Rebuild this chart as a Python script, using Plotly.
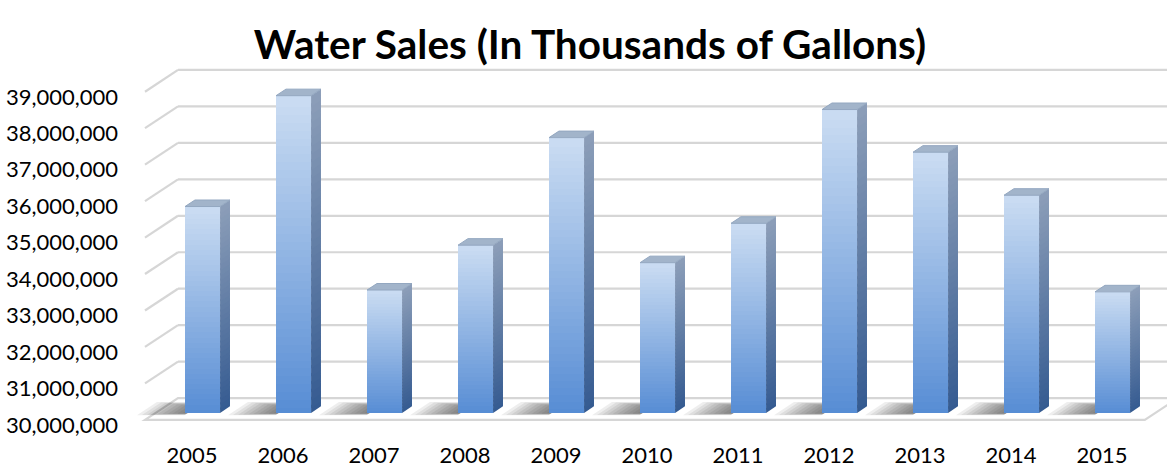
import plotly.graph_objects as go

# ---- data -------------------------------------------------------------
years = [2005, 2006, 2007, 2008, 2009, 2010, 2011, 2012, 2013, 2014, 2015]
sales = [35_660_000, 38_700_000, 33_370_000, 34_600_000, 37_550_000,
         34_120_000, 35_200_000, 38_320_000, 37_150_000, 35_970_000,
         33_320_000]
value_ticks = [30_000_000, 31_000_000, 32_000_000, 33_000_000, 34_000_000,
               35_000_000, 36_000_000, 37_000_000, 38_000_000, 39_000_000]

# ---- oblique "3-D" geometry (in axis units) ----------------------------
BASE = value_ticks[0]
DEPTH_X = -0.3626        # x shift from back wall to front edge of floor
DEPTH_Y = -597_000       # y shift from back wall to front edge of floor
FRONT_D = 0.68           # depth of the column front faces (0 = back, 1 = front)
BAR_DEPTH = 0.30         # column thickness as a fraction of floor depth
BAR_W = 0.385            # column width in category units
WALL_LEFT, WALL_RIGHT = -0.5165, 10.47
N_SLICES = 40
LABEL_NUDGE = 140_000    # pushes value labels down onto the line ends

X_RANGE = [-1.0989, 10.3516]
Y_RANGE = [28_960_600, 39_272_700]

GRID = "#d6d6d6"


def lerp(c0, c1, t):
    return "rgb({},{},{})".format(*[round(a + (b - a) * t) for a, b in zip(c0, c1)])


def path(xs, ys):
    pts = " L ".join(f"{x},{y}" for x, y in zip(xs, ys))
    return f"M {pts} Z"


FRONT_BOTTOM, FRONT_TOP = (86, 140, 212), (202, 220, 242)
SIDE_BOTTOM, SIDE_TOP = (52, 90, 145), (140, 158, 184)

shapes = []

# ---- floor (drawn beneath the traces) ---------------------------------
fx = [WALL_LEFT + DEPTH_X, WALL_RIGHT + DEPTH_X, WALL_RIGHT, WALL_LEFT]
fy = [BASE + DEPTH_Y, BASE + DEPTH_Y, BASE, BASE]
shapes.append(dict(type="path", path=path(fx, fy), xref="x", yref="y", layer="below",
                   fillcolor="white", line=dict(color=GRID, width=2.2)))

# ---- gridlines: back wall + left-side diagonals -----------------------
for v in value_ticks[1:]:
    shapes.append(dict(type="line", xref="x", yref="y", layer="below",
                       x0=WALL_LEFT + DEPTH_X, y0=v + DEPTH_Y, x1=WALL_LEFT, y1=v,
                       line=dict(color=GRID, width=2.2)))
    shapes.append(dict(type="line", xref="x", yref="y", layer="below",
                       x0=WALL_LEFT, y0=v, x1=WALL_RIGHT, y1=v,
                       line=dict(color=GRID, width=2.2)))

# ---- soft floor shadows to the left of each column --------------------
for k in range(1, 11):
    L = 0.052 * k
    d_f = FRONT_D + 0.005 + 0.01 * k
    d_b = FRONT_D - BAR_DEPTH - 0.02 * k
    for i in range(len(years)):
        xl_f = i - BAR_W / 2 + d_f * DEPTH_X + 0.03
        xl_b = i - BAR_W / 2 + d_b * DEPTH_X + 0.03
        sx = [xl_f - L, xl_f, xl_b, xl_b - L]
        sy = [BASE + d_f * DEPTH_Y, BASE + d_f * DEPTH_Y,
              BASE + d_b * DEPTH_Y, BASE + d_b * DEPTH_Y]
        shapes.append(dict(type="path", path=path(sx, sy), xref="x", yref="y",
                           layer="below", fillcolor="rgba(30,30,30,0.075)",
                           line=dict(width=0)))

fig = go.Figure()

# ---- columns ----------------------------------------------------------
x_front = [i + FRONT_D * DEPTH_X for i in range(len(years))]
bottom = BASE + FRONT_D * DEPTH_Y
tops = [v + FRONT_D * DEPTH_Y for v in sales]
shift_x = -BAR_DEPTH * DEPTH_X
shift_y = -BAR_DEPTH * DEPTH_Y

for k in range(N_SLICES):
    t = (k + 0.5) / N_SLICES
    lo = [bottom + (tp - bottom) * k / N_SLICES for tp in tops]
    hi = [bottom + (tp - bottom) * (k + 1) / N_SLICES for tp in tops]
    pad = [0 if k == 0 else (h - l) * 0.4 for l, h in zip(lo, hi)]
    base = [l - p for l, p in zip(lo, pad)]

    # front face slice
    fig.add_trace(go.Bar(x=x_front, y=[h - b for h, b in zip(hi, base)], base=base,
                         width=BAR_W, marker=dict(color=lerp(FRONT_BOTTOM, FRONT_TOP, t),
                                                  line=dict(width=0)),
                         hoverinfo="skip", showlegend=False))

    # side face slice
    px, py = [], []
    for xf, b, h in zip(x_front, base, hi):
        xr = xf + BAR_W / 2
        px += [xr, xr + shift_x, xr + shift_x, xr, xr, None]
        py += [b, b + shift_y, h + shift_y, h, b, None]
    fig.add_trace(go.Scatter(x=px, y=py, mode="lines", fill="toself",
                             fillcolor=lerp(SIDE_BOTTOM, SIDE_TOP, t),
                             line=dict(width=0), hoverinfo="skip", showlegend=False))

# top faces
tx, ty = [], []
for xf, tp in zip(x_front, tops):
    xl, xr = xf - BAR_W / 2, xf + BAR_W / 2
    tx += [xl, xr, xr + shift_x, xl + shift_x, xl, None]
    ty += [tp, tp, tp + shift_y, tp + shift_y, tp, None]
fig.add_trace(go.Scatter(x=tx, y=ty, mode="lines", fill="toself", fillcolor="#a2b4ca",
                         line=dict(color="#93a7c0", width=1), hoverinfo="skip",
                         showlegend=False))

# invisible trace that carries the value-axis labels (front edge of the left wall)
fig.add_trace(go.Scatter(x=[None], y=[None], yaxis="y2", showlegend=False,
                         hoverinfo="skip"))

FONT = "Lato"
fig.update_layout(
    width=1167, height=468,
    margin=dict(l=125, r=0, t=60, b=28),
    paper_bgcolor="white", plot_bgcolor="white",
    barmode="overlay", bargap=0,
    showlegend=False,
    shapes=shapes,
    font=dict(family=FONT, color="#000000", size=22),
    title=dict(text="<b>Water Sales (In Thousands of Gallons)</b>",
               x=590 / 1167, xanchor="center", y=1 - 45 / 468, yanchor="middle",
               xref="container", yref="container",
               font=dict(family=FONT, size=40.5, color="#000000")),
    xaxis=dict(range=X_RANGE, showgrid=False, zeroline=False, showline=False,
               tickmode="array", tickvals=[i + DEPTH_X for i in range(len(years))],
               ticktext=[str(y) for y in years], ticks="", ticklabelstandoff=4,
               tickfont=dict(size=22, family=FONT)),
    yaxis=dict(range=Y_RANGE, visible=False, showgrid=False, zeroline=False),
    yaxis2=dict(range=[Y_RANGE[0] - DEPTH_Y + LABEL_NUDGE,
                       Y_RANGE[1] - DEPTH_Y + LABEL_NUDGE], overlaying="y",
                side="left", showgrid=False, zeroline=False, showline=False,
                tickmode="array", tickvals=value_ticks, tickformat=",d", ticks="",
                ticklabelstandoff=6, tickfont=dict(size=22, family=FONT)),
)

fig.write_html("out.html")
